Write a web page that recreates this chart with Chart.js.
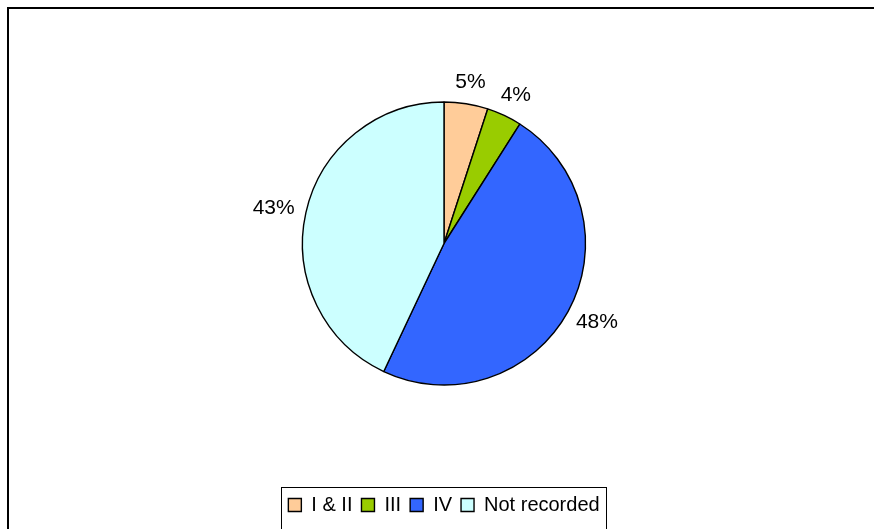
<!DOCTYPE html>
<html>
<head>
<meta charset="utf-8">
<script src="https://cdn.jsdelivr.net/npm/chart.js@4/dist/chart.umd.min.js"></script>
<style>
  body { margin: 0; background: #fff; }
  #wrap { width: 874px; height: 529px; }
</style>
</head>
<body>
<div id="wrap"><canvas id="grafica"></canvas></div>
<script>
var categorias = ["I & II", "III", "IV", "Not recorded"];
var valores = [5, 4, 48, 43];
var colores = ["#FFCC99", "#99CC00", "#3366FF", "#CCFFFF"];

var fuente = "'Liberation Sans', Arial, sans-serif";

// marco y recuadro de la leyenda
var marco = {
  id: "marco",
  afterDraw: function (chart) {
    var ctx = chart.ctx;
    ctx.save();
    ctx.strokeStyle = "#000";
    ctx.lineWidth = 2;
    ctx.beginPath();
    ctx.moveTo(8, 529);
    ctx.lineTo(8, 8);
    ctx.lineTo(874, 8);
    ctx.stroke();

    var cajas = chart.legend.legendHitBoxes;
    if (cajas && cajas.length) {
      var izq = cajas[0].left - 7;
      var ult = cajas[cajas.length - 1];
      var der = ult.left + ult.width + 7;
      ctx.lineWidth = 1;
      ctx.strokeRect(Math.round(izq) + 0.5, 487.5, Math.round(der - izq), 45);
    }
    ctx.restore();
  }
};

// etiquetas de porcentaje fuera del pastel
var etiquetas = {
  id: "etiquetas",
  afterDatasetsDraw: function (chart) {
    var ctx = chart.ctx;
    var meta = chart.getDatasetMeta(0);
    ctx.save();
    ctx.font = "21px " + fuente;
    ctx.fillStyle = "#000";
    ctx.textAlign = "center";
    ctx.textBaseline = "middle";
    meta.data.forEach(function (arco, i) {
      var texto = valores[i] + "%";
      var medio = (arco.startAngle + arco.endAngle) / 2;
      var c = Math.cos(medio), s = Math.sin(medio);
      var r = arco.outerRadius + 12;
      var w = ctx.measureText(texto).width;
      var x = arco.x + c * r + c * w / 2;
      var y = arco.y + s * r + s * 10;
      ctx.fillText(texto, x, y);
    });
    ctx.restore();
  }
};

var ctx = document.getElementById("grafica").getContext("2d");

var myChart = new Chart(ctx, {
  type: "pie",
  data: {
    labels: categorias,
    datasets: [
      {
        data: valores,
        backgroundColor: colores,
        borderColor: "#000",
        borderWidth: 1.4,
      },
    ],
  },
  options: {
    responsive: true,
    maintainAspectRatio: false,
    animation: false,
    radius: 141.5,
    layout: {
      padding: { top: 1, left: 14, right: 0, bottom: 4 },
    },
    plugins: {
      legend: {
        position: "bottom",
        labels: {
          boxWidth: 13,
          boxHeight: 13,
          padding: 9,
          color: "#000",
          font: { family: fuente, size: 20 },
        },
      },
      tooltip: { enabled: false },
    },
  },
  plugins: [etiquetas, marco],
});
</script>
</body>
</html>
